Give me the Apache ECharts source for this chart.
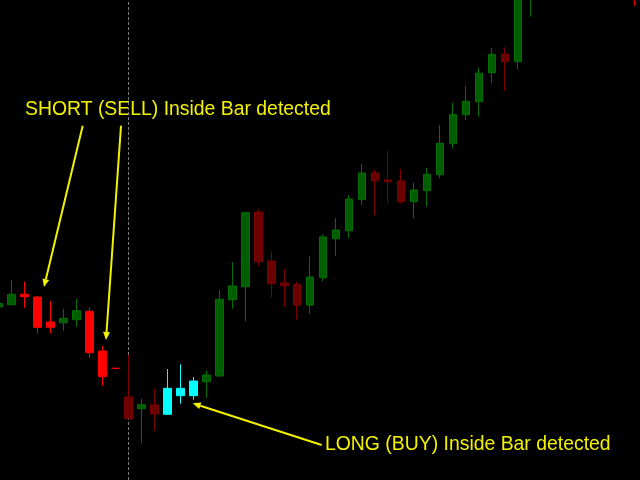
<!DOCTYPE html>
<html>
<head>
<meta charset="utf-8">
<title>Inside Bar detector</title>
<script src="https://cdn.jsdelivr.net/npm/echarts@6/dist/echarts.min.js"></script>
<style>
  html, body { margin: 0; padding: 0; background: #000; }
  #chart { width: 640px; height: 480px; }
</style>
</head>
<body>
<div id="chart"></div>
<script>
// bar numbers (x categories)
const bars = Array.from({ length: 50 }, (_, i) => String(i + 1));

// OHLC (null = bar above the visible window)
const openV  = [173, 175.3, 185.7, 183, 158, 157.3, 160.3, 168.7, 129, 111.7,
  83, 71.3, 75, 65.7, 84.3, 84.3, 98.3, 104, 180.3, 193.3,
  268, 219, 197, 195.3, 175, 202.3, 241.3, 249.3, 280.3, 307,
  300, 299, 278.3, 289.3, 305.3, 336.7, 365.3, 378.3, 407.3, 425.7,
  418.3, 500, null, null, null, null, null, null, null, 500];
const closeV = [176.5, 185.7, 183.3, 152.7, 152.7, 161.7, 169.3, 127.3, 103.3, 111.7,
  61.3, 75.3, 66, 91.7, 91.7, 99, 105, 180.7, 194, 267.3,
  218.3, 196.3, 194.3, 175, 203, 243, 250, 281, 307, 299.3,
  298.3, 278.3, 290, 305.7, 336.7, 365.3, 378.7, 406.7, 425.7, 418.3,
  500, 530, null, null, null, null, null, null, null, 490];
const lowV   = [172, 175, 172.3, 146.7, 146.7, 149.3, 153.3, 122.3, 94.3, 111.7,
  61.3, 36.7, 49, 65.7, 76.3, 80.3, 82.3, 104, 171.3, 159,
  214, 182.3, 173.3, 160.7, 166.3, 198.7, 224, 242.3, 275, 265,
  277.3, 276.7, 261.3, 273.3, 301.7, 331.7, 360, 363.3, 396.7, 389.3,
  411, 463.3, null, null, null, null, null, null, null, 474.3];
const highV  = [177, 200, 198.3, 184, 179, 171, 181, 172.7, 134, 111.7,
  125, 81, 91, 111, 115.7, 103, 109.3, 190, 218, 267.3,
  270.7, 228.3, 210.7, 198.3, 223.3, 245.7, 262, 285, 316, 310,
  329, 311, 297, 312, 355, 377, 394, 412.3, 432, 432.7,
  510, 540, null, null, null, null, null, null, null, 520];

// indicator signal per bar: 'sell' / 'buy' inside bar, '' = normal
const signal = ['', '', 'sell', 'sell', 'sell', '', '', 'sell', 'sell', 'sell',
  '', '', '', 'buy', 'buy', 'buy', '', '', '', '',
  '', '', '', '', '', '', '', '', '', '',
  '', '', '', '', '', '', '', '', '', '',
  '', '', '', '', '', '', '', '', '', 'sell'];

const sessionBar = '11'; // dotted period separator

const palette = {
  up:   { fill: '#005e00', line: '#007000' },
  down: { fill: '#6a0000', line: '#7c0000' },
  sell: { fill: '#ff0000', line: '#ff0000' },
  buy:  { fill: '#00ffff', line: '#00ffff' }
};

const candles = bars.map((b, i) => {
  if (openV[i] == null) return '-';
  let kind = signal[i] || (closeV[i] >= openV[i] ? 'up' : 'down');
  const c = palette[kind];
  return {
    value: [openV[i], closeV[i], lowV[i], highV[i]],
    itemStyle: { color: c.fill, color0: c.fill, borderColor: c.line, borderColor0: c.line, borderWidth: 1 }
  };
});

const YELLOW = '#f2f200';

// annotation arrow (line + small head)
function arrow(x1, y1, x2, y2) {
  const a = Math.atan2(y2 - y1, x2 - x1);
  const len = 8, half = 3.5;
  const bx = x2 - len * Math.cos(a), by = y2 - len * Math.sin(a);
  const px = -Math.sin(a) * half, py = Math.cos(a) * half;
  return {
    type: 'group', silent: true,
    children: [
      { type: 'line', shape: { x1: x1, y1: y1, x2: bx, y2: by }, style: { stroke: YELLOW, lineWidth: 2 } },
      { type: 'polygon', shape: { points: [[x2, y2], [bx + px, by + py], [bx - px, by - py]] }, style: { fill: YELLOW } }
    ]
  };
}

const chart = echarts.init(document.getElementById('chart'));
chart.setOption({
  backgroundColor: '#000',
  animation: false,
  grid: { left: -7.8, right: -1.2, top: 0, bottom: 0, outerBoundsMode: 'none', containLabel: false },
  xAxis: {
    type: 'category',
    data: bars,
    show: false
  },
  yAxis: {
    type: 'value',
    min: 0,
    max: 480,
    show: false,
    splitLine: { show: false }
  },
  series: [{
    type: 'candlestick',
    data: candles,
    barWidth: 8,
    clip: true,
    z: 3,
    markLine: {
      silent: true,
      z: 1,
      symbol: ['none', 'none'],
      label: { show: false },
      lineStyle: { color: '#7a7a7a', type: [3, 2], width: 1 },
      data: [{ xAxis: sessionBar }]
    }
  }],
  graphic: [
    arrow(82.7, 125.7, 44, 287),
    arrow(121, 125.7, 106, 340),
    arrow(321.7, 445, 192.7, 403.3),
    {
      type: 'text', left: 25, top: 100.3, silent: true,
      style: { text: 'SHORT (SELL) Inside Bar detected', fill: YELLOW, font: '19.4px "Liberation Sans", Arial, sans-serif' }
    },
    {
      type: 'text', left: 325, top: 435, silent: true,
      style: { text: 'LONG (BUY) Inside Bar detected', fill: YELLOW, font: '19.4px "Liberation Sans", Arial, sans-serif' }
    }
  ]
});
</script>
</body>
</html>
